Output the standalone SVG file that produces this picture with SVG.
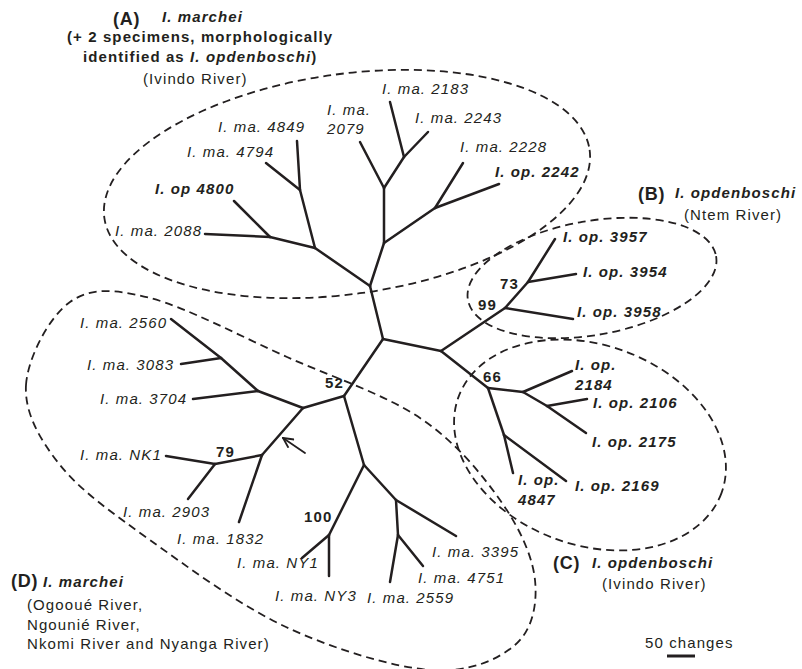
<svg xmlns="http://www.w3.org/2000/svg" width="802" height="669" viewBox="0 0 802 669">
<style>
text{font-family:"Liberation Sans",Arial,sans-serif;font-size:15px;fill:#231f20;letter-spacing:1.1px}
.i{font-style:italic}
.b{font-weight:bold}
.bi{font-weight:bold;font-style:italic}
.big{font-weight:bold;font-size:18px;letter-spacing:0.8px}
.br line{stroke:#231f20;stroke-width:2.5;stroke-linecap:round}
.hull{fill:none;stroke:#231f20;stroke-width:1.8;stroke-dasharray:8 5}
</style>
<defs>
<marker id="arr" viewBox="0 0 12 12" refX="11" refY="6" markerWidth="12" markerHeight="12" markerUnits="userSpaceOnUse" orient="auto">
<path d="M1,1 L11,6 L1,11" fill="none" stroke="#231f20" stroke-width="1.8"/>
</marker>
</defs>
<rect width="802" height="669" fill="#fff"/>

<g id="cladeA">
<ellipse class="hull" cx="347" cy="184" rx="245" ry="110" transform="rotate(-8 347 184)"/>
<text x="113" y="25" class="big">(A)</text>
<text x="162" y="22" class="bi">I. marchei</text>
<text x="67" y="42" class="b">(+ 2 specimens, morphologically</text>
<text x="83" y="62" class="b">identified as <tspan class="bi">I. opdenboschi</tspan>)</text>
<text x="143" y="84">(Ivindo River)</text>
</g>
<g id="cladeB">
<ellipse class="hull" cx="592" cy="278" rx="126" ry="57" transform="rotate(-10 592 278)"/>
<text x="638" y="200" class="big">(B)</text>
<text x="675" y="198" class="bi">I. opdenboschi</text>
<text x="684" y="220">(Ntem River)</text>
</g>
<g id="cladeC">
<ellipse class="hull" cx="590" cy="445" rx="140" ry="100" transform="rotate(20 590 445)"/>
<text x="553" y="569" class="big">(C)</text>
<text x="592" y="568" class="bi">I. opdenboschi</text>
<text x="602" y="589">(Ivindo River)</text>
</g>
<g id="cladeD">
<path class="hull" d="M26,385 C27.7,357.8 49.3,316.5 70,302 C90.7,287.5 113.8,288.8 150,298 C186.2,307.2 242,337 287,357 C332,377 384.5,394.2 420,418 C455.5,441.8 480.8,473 500,500 C519.2,527 532.5,555.8 535,580 C537.5,604.2 532.5,630 515,645 C497.5,660 468.2,673 430,670 C391.8,667 332.7,648.7 286,627 C239.3,605.3 187.7,567 150,540 C112.3,513 80.7,490.8 60,465 C39.3,439.2 24.3,412.2 26,385 Z"/>
<text x="11" y="587" class="big">(D)</text>
<text x="43" y="587" class="bi">I. marchei</text>
<text x="27" y="610">(Ogooué River,</text>
<text x="27" y="630">Ngounié River,</text>
<text x="27" y="649">Nkomi River and Nyanga River)</text>
</g>

<g id="connectors" class="br">
<line x1="383" y1="339" x2="370" y2="286"/>
<line x1="370" y1="286" x2="384" y2="243"/>
<line x1="384" y1="243" x2="384" y2="188"/>
<line x1="384" y1="188" x2="360" y2="142"/>
<line x1="384" y1="188" x2="404" y2="157"/>
<line x1="404" y1="157" x2="390" y2="102"/>
<line x1="404" y1="157" x2="428" y2="132"/>
<line x1="384" y1="243" x2="435" y2="208"/>
<line x1="435" y1="208" x2="463" y2="163"/>
<line x1="435" y1="208" x2="499" y2="184"/>
<line x1="370" y1="286" x2="315" y2="248"/>
<line x1="315" y1="248" x2="300" y2="190"/>
<line x1="300" y1="190" x2="297" y2="141"/>
<line x1="300" y1="190" x2="266" y2="163"/>
<line x1="315" y1="248" x2="270" y2="237"/>
<line x1="270" y1="237" x2="234" y2="201"/>
<line x1="270" y1="237" x2="205" y2="234"/>
<line x1="383" y1="339" x2="441" y2="351"/>
<line x1="441" y1="351" x2="505" y2="308"/>
<line x1="505" y1="308" x2="573" y2="319"/>
<line x1="505" y1="308" x2="528" y2="282"/>
<line x1="528" y1="282" x2="555" y2="239"/>
<line x1="528" y1="282" x2="576" y2="274"/>
<line x1="441" y1="351" x2="488" y2="388"/>
<line x1="488" y1="388" x2="523" y2="392"/>
<line x1="523" y1="392" x2="572" y2="371"/>
<line x1="523" y1="392" x2="547" y2="406"/>
<line x1="547" y1="406" x2="587" y2="399"/>
<line x1="547" y1="406" x2="586" y2="433"/>
<line x1="488" y1="388" x2="504" y2="435"/>
<line x1="504" y1="435" x2="513" y2="473"/>
<line x1="504" y1="435" x2="566" y2="481"/>
<line x1="383" y1="339" x2="344" y2="396"/>
<line x1="344" y1="396" x2="303" y2="408"/>
<line x1="303" y1="408" x2="258" y2="391"/>
<line x1="258" y1="391" x2="193" y2="399"/>
<line x1="258" y1="391" x2="221" y2="358"/>
<line x1="221" y1="358" x2="171" y2="319"/>
<line x1="221" y1="358" x2="181" y2="364"/>
<line x1="303" y1="408" x2="262" y2="455"/>
<line x1="262" y1="455" x2="215" y2="464"/>
<line x1="215" y1="464" x2="166" y2="456"/>
<line x1="215" y1="464" x2="188" y2="499"/>
<line x1="262" y1="455" x2="239" y2="522"/>
<line x1="344" y1="396" x2="364" y2="465"/>
<line x1="364" y1="465" x2="329" y2="535"/>
<line x1="329" y1="535" x2="302" y2="558"/>
<line x1="329" y1="535" x2="329" y2="576"/>
<line x1="364" y1="465" x2="396" y2="500"/>
<line x1="396" y1="500" x2="456" y2="536"/>
<line x1="396" y1="500" x2="398" y2="535"/>
<line x1="398" y1="535" x2="390" y2="582"/>
<line x1="398" y1="535" x2="423" y2="566"/>
<line x1="305" y1="453" x2="283" y2="438" style="stroke-width:1.8" marker-end="url(#arr)"/>
</g>

<g id="tipsA">
<g id="t2183"><text x="382" y="94" class="i">I. ma. 2183</text></g>
<g id="t2079"><text x="327" y="115" class="i">I. ma.</text><text x="327" y="134" class="i">2079</text></g>
<g id="t2243"><text x="415" y="123" class="i">I. ma. 2243</text></g>
<g id="t4849"><text x="218" y="132" class="i">I. ma. 4849</text></g>
<g id="t4794"><text x="187" y="157" class="i">I. ma. 4794</text></g>
<g id="t2228"><text x="460" y="152" class="i">I. ma. 2228</text></g>
<g id="t2242"><text x="495" y="177" class="bi">I. op. 2242</text></g>
<g id="t4800"><text x="155" y="194" class="bi">I. op 4800</text></g>
<g id="t2088"><text x="115" y="236" class="i">I. ma. 2088</text></g>
</g>
<g id="tipsB">
<g id="t3957"><text x="563" y="242" class="bi">I. op. 3957</text></g>
<g id="t3954"><text x="583" y="277" class="bi">I. op. 3954</text></g>
<g id="t3958"><text x="577" y="317" class="bi">I. op. 3958</text></g>
</g>
<g id="tipsC">
<g id="t2184"><text x="575" y="370" class="bi">I. op.</text><text x="575" y="390" class="bi">2184</text></g>
<g id="t2106"><text x="593" y="408" class="bi">I. op. 2106</text></g>
<g id="t2175"><text x="592" y="447" class="bi">I. op. 2175</text></g>
<g id="t4847"><text x="518" y="485" class="bi">I. op.</text><text x="518" y="505" class="bi">4847</text></g>
<g id="t2169"><text x="575" y="491" class="bi">I. op. 2169</text></g>
</g>
<g id="tipsD">
<g id="t2560"><text x="80" y="328" class="i">I. ma. 2560</text></g>
<g id="t3083"><text x="87" y="370" class="i">I. ma. 3083</text></g>
<g id="t3704"><text x="100" y="404" class="i">I. ma. 3704</text></g>
<g id="tNK1"><text x="80" y="460" class="i">I. ma. NK1</text></g>
<g id="t2903"><text x="123" y="517" class="i">I. ma. 2903</text></g>
<g id="t1832"><text x="177" y="544" class="i">I. ma. 1832</text></g>
<g id="tNY1"><text x="237" y="568" class="i">I. ma. NY1</text></g>
<g id="tNY3"><text x="275" y="601" class="i">I. ma. NY3</text></g>
<g id="t2559"><text x="367" y="603" class="i">I. ma. 2559</text></g>
<g id="t4751"><text x="418" y="583" class="i">I. ma. 4751</text></g>
<g id="t3395"><text x="432" y="557" class="i">I. ma. 3395</text></g>
</g>
<g id="support">
<text x="500" y="289" class="b">73</text>
<text x="478" y="310" class="b">99</text>
<text x="483" y="382" class="b">66</text>
<text x="325" y="388" class="b">52</text>
<text x="216" y="457" class="b">79</text>
<text x="304" y="522" class="b">100</text>
</g>
<g id="scalebar">
<text x="645" y="648">50 changes</text>
<line x1="667" y1="656" x2="695" y2="656" stroke="#231f20" stroke-width="3"/>
</g>
</svg>
